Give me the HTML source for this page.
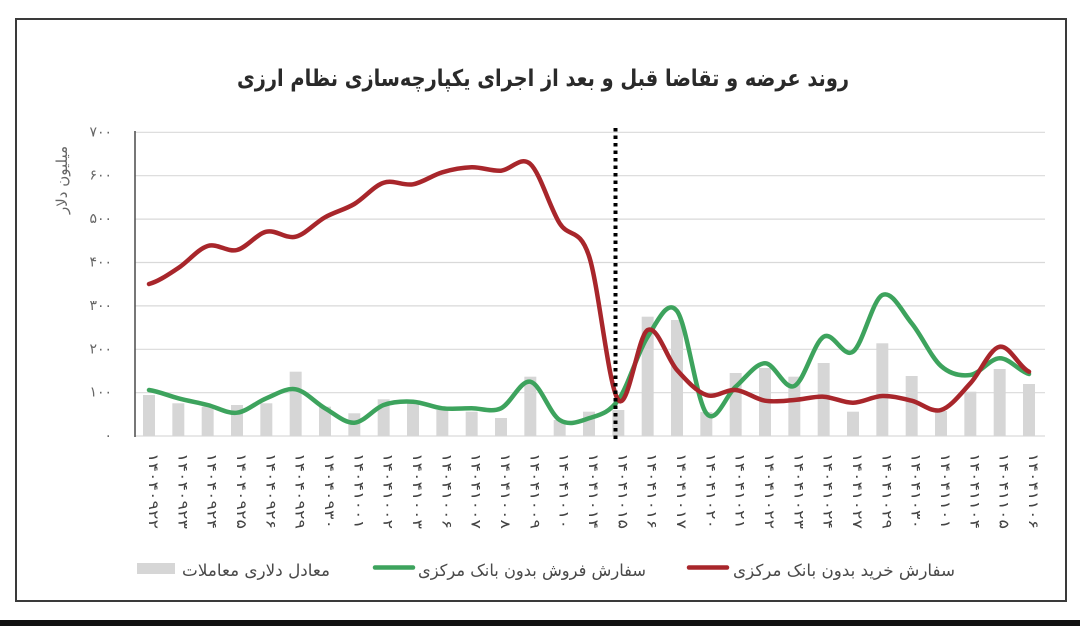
<!DOCTYPE html>
<html><head><meta charset="utf-8">
<style>
html,body{margin:0;padding:0;background:#fff;}
svg{display:block;}
text{font-family:"DejaVu Sans","Liberation Sans",sans-serif;}
</style></head>
<body>
<svg width="1080" height="626" viewBox="0 0 1080 626" xmlns="http://www.w3.org/2000/svg">
<rect x="0" y="0" width="1080" height="626" fill="#fff"/>
<!-- frame -->
<rect x="16" y="19" width="1050" height="582" fill="#fff" stroke="#3a3a3a" stroke-width="2"/>
<rect x="0" y="620" width="1080" height="6" fill="#111"/>

<!-- title -->
<text x="543" y="86" font-size="23" font-weight="bold" fill="#2a2a2a" text-anchor="middle" textLength="612" lengthAdjust="spacingAndGlyphs">روند عرضه و تقاضا قبل و بعد از اجرای یکپارچه&#8204;سازی نظام ارزی</text>

<!-- gridlines -->
<g stroke="#d9d9d9" stroke-width="1.2">
<line x1="135" y1="132.3" x2="1045" y2="132.3"/>
<line x1="135" y1="175.7" x2="1045" y2="175.7"/>
<line x1="135" y1="219.1" x2="1045" y2="219.1"/>
<line x1="135" y1="262.5" x2="1045" y2="262.5"/>
<line x1="135" y1="305.9" x2="1045" y2="305.9"/>
<line x1="135" y1="349.3" x2="1045" y2="349.3"/>
<line x1="135" y1="392.7" x2="1045" y2="392.7"/>
<line x1="135" y1="436" x2="1045" y2="436"/>
</g>

<!-- y labels -->
<g font-size="14" fill="#666" text-anchor="end" dominant-baseline="central">
<text x="112" y="132.3">۷۰۰</text>
<text x="112" y="175.7">۶۰۰</text>
<text x="112" y="219.1">۵۰۰</text>
<text x="112" y="262.5">۴۰۰</text>
<text x="112" y="305.9">۳۰۰</text>
<text x="112" y="349.3">۲۰۰</text>
<text x="112" y="392.7">۱۰۰</text>
<text x="112" y="436">۰</text>
</g>
<text transform="translate(62,180) rotate(-90)" font-size="15" fill="#666" text-anchor="middle" dominant-baseline="central">میلیون دلار</text>

<!-- bars -->
<g fill="#d6d6d6">
<rect x="143" y="395" width="12" height="41"/>
<rect x="172.33" y="403.3" width="12" height="32.7"/>
<rect x="201.67" y="406.7" width="12" height="29.3"/>
<rect x="231" y="405" width="12" height="31"/>
<rect x="260.33" y="403.3" width="12" height="32.7"/>
<rect x="289.67" y="371.7" width="12" height="64.3"/>
<rect x="319" y="406.7" width="12" height="29.3"/>
<rect x="348.33" y="413.3" width="12" height="22.7"/>
<rect x="377.67" y="399.3" width="12" height="36.7"/>
<rect x="407" y="403" width="12" height="33"/>
<rect x="436.33" y="410" width="12" height="26"/>
<rect x="465.67" y="411.7" width="12" height="24.3"/>
<rect x="495" y="418" width="12" height="18"/>
<rect x="524.33" y="376.7" width="12" height="59.3"/>
<rect x="553.67" y="420" width="12" height="16"/>
<rect x="583" y="411.7" width="12" height="24.3"/>
<rect x="612.33" y="410" width="12" height="26"/>
<rect x="641.67" y="316.7" width="12" height="119.3"/>
<rect x="671" y="320" width="12" height="116"/>
<rect x="700.33" y="412" width="12" height="24"/>
<rect x="729.67" y="373" width="12" height="63"/>
<rect x="759" y="368" width="12" height="68"/>
<rect x="788.33" y="376.7" width="12" height="59.3"/>
<rect x="817.67" y="363" width="12" height="73"/>
<rect x="847" y="411.7" width="12" height="24.3"/>
<rect x="876.33" y="343.3" width="12" height="92.7"/>
<rect x="905.67" y="376" width="12" height="60"/>
<rect x="935" y="411" width="12" height="25"/>
<rect x="964.33" y="391.7" width="12" height="44.3"/>
<rect x="993.67" y="369" width="12" height="67"/>
<rect x="1023" y="384" width="12" height="52"/>
</g>

<!-- left axis -->
<line x1="135" y1="131" x2="135" y2="437" stroke="#555" stroke-width="1.6"/>

<!-- green line -->
<path fill="none" stroke="#3da35d" stroke-width="4.5" stroke-linecap="round" stroke-linejoin="round"
d="M149,390 C158.78,391.38 168.55,395.8 178.33,398.3 S197.89,402.6 207.67,405 S227.22,413.82 237,412.7 S256.55,402.2 266.33,398.3 S285.89,387.63 295.67,389.3 S315.22,402.73 325,408.3 S344.55,423.25 354.33,422.7 S373.89,408.5 383.67,405 S403.22,401.15 413,401.7 S432.55,407.2 442.33,408.3 S461.89,408.3 471.67,408.3 S491.22,412.73 501,408.3 S520.55,379.75 530.33,381.7 S549.89,413.9 559.67,420 S579.22,421.63 589,418.3 S608.55,413.6 618.33,400 S637.89,351.5 647.67,336.7 S667.22,298.2 677,311 S696.55,400.68 706.33,413.3 S725.89,395.03 735.67,386.7 S755.22,363.42 765,363.3 S784.55,390.43 794.33,386 S813.89,342.42 823.67,336.7 S843.22,358.65 853,351.7 S872.55,299.73 882.33,295 S901.89,311.47 911.67,323.3 S931.22,357.38 941,366 S960.55,376.28 970.33,375 S989.89,358.47 999.67,358.3 S1019.22,371.38 1029,374"/>

<!-- red line -->
<path fill="none" stroke="#a8262b" stroke-width="4.5" stroke-linecap="round" stroke-linejoin="round"
d="M149,284 C158.78,281.33 168.55,274.33 178.33,268 S197.89,249 207.67,246 S227.22,252.38 237,250 S256.55,233.92 266.33,231.7 S285.89,239.1 295.67,236.7 S315.22,222.75 325,217.3 S344.55,209.77 354.33,204 S373.89,185.98 383.67,182.7 S403.22,186.03 413,184.3 S432.55,175.13 442.33,172.3 S461.89,167.57 471.67,167.3 S491.22,171.25 501,170.7 S520.55,155.23 530.33,164 S549.89,207.97 559.67,223.3 S579.22,226.55 589,256 S608.55,387.67 618.33,400 S637.89,335 647.67,330 S667.22,359.17 677,370 S696.55,391.67 706.33,395 S725.89,389.05 735.67,390 S755.22,399.03 765,400.7 S784.55,400.67 794.33,400 S813.89,396.25 823.67,396.7 S843.22,402.82 853,402.7 S872.55,396.33 882.33,396 S901.89,398.37 911.67,400.7 S931.22,412.9 941,410 S960.55,393.85 970.33,383.3 S989.89,348.63 999.67,346.7 S1019.22,367.53 1029,371.7"/>

<!-- dotted divider -->
<line x1="615.5" y1="128" x2="615.5" y2="440" stroke="#000" stroke-width="4" stroke-dasharray="3.5 4"/>

<!-- x labels -->
<g font-size="13.5" fill="#444" dominant-baseline="central" direction="ltr">
<text transform="translate(153,453) rotate(90)" textLength="76" lengthAdjust="spacingAndGlyphs">۱۴۰۴۰۹۲۲</text>
<text transform="translate(182.33,453) rotate(90)" textLength="76" lengthAdjust="spacingAndGlyphs">۱۴۰۴۰۹۲۳</text>
<text transform="translate(211.67,453) rotate(90)" textLength="76" lengthAdjust="spacingAndGlyphs">۱۴۰۴۰۹۲۴</text>
<text transform="translate(241,453) rotate(90)" textLength="76" lengthAdjust="spacingAndGlyphs">۱۴۰۴۰۹۲۵</text>
<text transform="translate(270.33,453) rotate(90)" textLength="76" lengthAdjust="spacingAndGlyphs">۱۴۰۴۰۹۲۶</text>
<text transform="translate(299.67,453) rotate(90)" textLength="76" lengthAdjust="spacingAndGlyphs">۱۴۰۴۰۹۲۹</text>
<text transform="translate(329,453) rotate(90)" textLength="76" lengthAdjust="spacingAndGlyphs">۱۴۰۴۰۹۳۰</text>
<text transform="translate(358.33,453) rotate(90)" textLength="76" lengthAdjust="spacingAndGlyphs">۱۴۰۴۱۰۰۱</text>
<text transform="translate(387.67,453) rotate(90)" textLength="76" lengthAdjust="spacingAndGlyphs">۱۴۰۴۱۰۰۲</text>
<text transform="translate(417,453) rotate(90)" textLength="76" lengthAdjust="spacingAndGlyphs">۱۴۰۴۱۰۰۳</text>
<text transform="translate(446.33,453) rotate(90)" textLength="76" lengthAdjust="spacingAndGlyphs">۱۴۰۴۱۰۰۶</text>
<text transform="translate(475.67,453) rotate(90)" textLength="76" lengthAdjust="spacingAndGlyphs">۱۴۰۴۱۰۰۷</text>
<text transform="translate(505,453) rotate(90)" textLength="76" lengthAdjust="spacingAndGlyphs">۱۴۰۴۱۰۰۸</text>
<text transform="translate(534.33,453) rotate(90)" textLength="76" lengthAdjust="spacingAndGlyphs">۱۴۰۴۱۰۰۹</text>
<text transform="translate(563.67,453) rotate(90)" textLength="76" lengthAdjust="spacingAndGlyphs">۱۴۰۴۱۰۱۰</text>
<text transform="translate(593,453) rotate(90)" textLength="76" lengthAdjust="spacingAndGlyphs">۱۴۰۴۱۰۱۴</text>
<text transform="translate(622.33,453) rotate(90)" textLength="76" lengthAdjust="spacingAndGlyphs">۱۴۰۴۱۰۱۵</text>
<text transform="translate(651.67,453) rotate(90)" textLength="76" lengthAdjust="spacingAndGlyphs">۱۴۰۴۱۰۱۶</text>
<text transform="translate(681,453) rotate(90)" textLength="76" lengthAdjust="spacingAndGlyphs">۱۴۰۴۱۰۱۷</text>
<text transform="translate(710.33,453) rotate(90)" textLength="76" lengthAdjust="spacingAndGlyphs">۱۴۰۴۱۰۲۰</text>
<text transform="translate(739.67,453) rotate(90)" textLength="76" lengthAdjust="spacingAndGlyphs">۱۴۰۴۱۰۲۱</text>
<text transform="translate(769,453) rotate(90)" textLength="76" lengthAdjust="spacingAndGlyphs">۱۴۰۴۱۰۲۲</text>
<text transform="translate(798.33,453) rotate(90)" textLength="76" lengthAdjust="spacingAndGlyphs">۱۴۰۴۱۰۲۳</text>
<text transform="translate(827.67,453) rotate(90)" textLength="76" lengthAdjust="spacingAndGlyphs">۱۴۰۴۱۰۲۴</text>
<text transform="translate(857,453) rotate(90)" textLength="76" lengthAdjust="spacingAndGlyphs">۱۴۰۴۱۰۲۷</text>
<text transform="translate(886.33,453) rotate(90)" textLength="76" lengthAdjust="spacingAndGlyphs">۱۴۰۴۱۰۲۹</text>
<text transform="translate(915.67,453) rotate(90)" textLength="76" lengthAdjust="spacingAndGlyphs">۱۴۰۴۱۰۳۰</text>
<text transform="translate(945,453) rotate(90)" textLength="76" lengthAdjust="spacingAndGlyphs">۱۴۰۴۱۱۰۱</text>
<text transform="translate(974.33,453) rotate(90)" textLength="76" lengthAdjust="spacingAndGlyphs">۱۴۰۴۱۱۰۴</text>
<text transform="translate(1003.67,453) rotate(90)" textLength="76" lengthAdjust="spacingAndGlyphs">۱۴۰۴۱۱۰۵</text>
<text transform="translate(1033,453) rotate(90)" textLength="76" lengthAdjust="spacingAndGlyphs">۱۴۰۴۱۱۰۶</text>
</g>

<!-- legend -->
<rect x="137" y="563" width="38" height="11" fill="#d6d6d6"/>
<text x="256" y="576" font-size="16.5" fill="#4a4a4a" text-anchor="middle" textLength="148" lengthAdjust="spacingAndGlyphs">معادل دلاری معاملات</text>
<line x1="375" y1="567.5" x2="413" y2="567.5" stroke="#3da35d" stroke-width="4.5" stroke-linecap="round"/>
<text x="532" y="576" font-size="16.5" fill="#4a4a4a" text-anchor="middle" textLength="228" lengthAdjust="spacingAndGlyphs">سفارش فروش بدون بانک مرکزی</text>
<line x1="689" y1="567.5" x2="727" y2="567.5" stroke="#a8262b" stroke-width="4.5" stroke-linecap="round"/>
<text x="844" y="576" font-size="16.5" fill="#4a4a4a" text-anchor="middle" textLength="222" lengthAdjust="spacingAndGlyphs">سفارش خرید بدون بانک مرکزی</text>
</svg>
</body></html>
